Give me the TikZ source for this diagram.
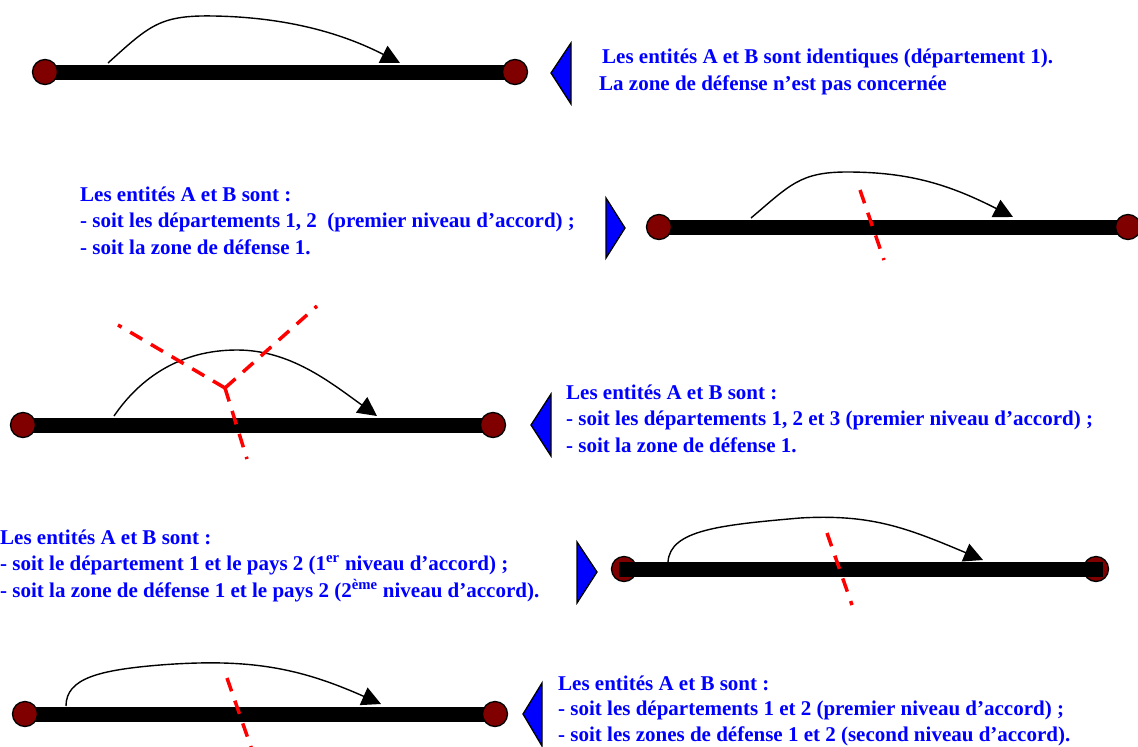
\documentclass[tikz,border=0pt]{standalone}
\usepackage{fontspec}
\setmainfont{Liberation Serif}
\usetikzlibrary{arrows.meta,backgrounds}
\definecolor{dotred}{RGB}{128,0,0}
\definecolor{txtblue}{RGB}{0,0,255}
\tikzset{
  bar/.style={line width=15pt,black},
  endpt/.style={circle,fill=dotred,draw=black,line width=1.3pt,minimum size=25pt,inner sep=0pt},
  hop/.style={black,line width=1.4pt,-{Triangle[length=19pt,width=19pt]}},
  zone/.style={red,line width=3.5pt,dash pattern=on 14pt off 10pt},
  pointer/.style={fill=txtblue,draw=black,line width=1.3pt,line join=miter},
  caption/.style={font=\fontsize{21}{26.5}\selectfont\bfseries,text=txtblue,align=left,anchor=base west,inner sep=0pt}
}
\begin{document}
\begin{tikzpicture}[x=1pt,y=-1pt]
\useasboundingbox (0,0) rectangle (1138,747);

% ---------- Row 1 ----------
\node[endpt] (a1) at (45,72) {};
\node[endpt] (b1) at (515,72) {};
\begin{pgfonlayer}{background}
\draw[bar] (a1.center) -- (b1.center);
\end{pgfonlayer}
\coordinate (s1) at (108,63);
\coordinate (e1) at (400,63);
\draw[hop] (s1) .. controls (150,25) and (160,15) .. (214,16) .. controls (270,17) and (330,27) .. (e1);
\draw[pointer] (551,73) -- (571,43) -- (571,104) -- cycle;
\node[caption] (t1) at (599,90) {\hspace*{3pt}Les entités A et B sont identiques (département 1).\\La zone de défense n’est pas concernée};

% ---------- Row 2 ----------
\node[endpt] (a2) at (659,227) {};
\node[endpt] (b2) at (1128,227) {};
\begin{pgfonlayer}{background}
\draw[bar] (a2.center) -- (b2.center);
\end{pgfonlayer}
\coordinate (s2) at (751,218);
\coordinate (e2) at (1013,217);
\draw[hop] (s2) .. controls (790,185) and (800,172) .. (847,172) .. controls (910,172) and (950,185) .. (e2);
\coordinate (z2a) at (860,190);
\coordinate (z2b) at (884,260);
\draw[zone] (z2a) -- (z2b);
\draw[pointer] (606,198) -- (625,228) -- (606,258) -- cycle;
\node[caption] (t2) at (80,254) {Les entités A et B sont :\\- soit les départements 1, 2~ (premier niveau d’accord) ;\\- soit la zone de défense 1.};

% ---------- Row 3 ----------
\node[endpt] (a3) at (23,425) {};
\node[endpt] (b3) at (493,425) {};
\begin{pgfonlayer}{background}
\draw[bar] (a3.center) -- (b3.center);
\end{pgfonlayer}
\coordinate (s3) at (114,416);
\coordinate (e3) at (377,416);
\draw[hop] (s3) .. controls (140,378) and (180,350) .. (237,350) .. controls (290,350) and (330,382) .. (e3);
\coordinate (j3) at (225,388);
\coordinate (z3a) at (118,325);
\coordinate (z3b) at (317,306);
\coordinate (z3c) at (247,459);
\draw[zone] (j3) -- (z3a);
\draw[zone] (j3) -- (z3b);
\draw[zone] (j3) -- (z3c);
\draw[pointer] (531,425) -- (551,394) -- (551,456) -- cycle;
\node[caption] (t3) at (566,452) {Les entités A et B sont :\\- soit les départements 1, 2 et 3 (premier niveau d’accord) ;\\- soit la zone de défense 1.};

% ---------- Row 4 ----------
\node[endpt] (a4) at (624,569) {};
\node[endpt] (b4) at (1096,569) {};
\draw[bar] ([xshift=-5pt]a4.center) -- ([xshift=7pt]b4.center);
\coordinate (s4) at (668,562);
\coordinate (e4) at (983,560);
\draw[hop] (s4) .. controls (670,530) and (720,525) .. (800,518) .. controls (870,514) and (905,527) .. (e4);
\coordinate (z4a) at (827,533);
\coordinate (z4b) at (852,605);
\draw[zone] (z4a) -- (z4b);
\draw[pointer] (577,542) -- (597,572) -- (577,603) -- cycle;
\node[caption] (t4) at (0,597) {Les entités A et B sont :\\- soit le département 1 et le pays 2 (1\textsuperscript{er} niveau d’accord) ;\\- soit la zone de défense 1 et le pays 2 (2\textsuperscript{ème} niveau d’accord).};

% ---------- Row 5 ----------
\node[endpt] (a5) at (25,714) {};
\node[endpt] (b5) at (495,714) {};
\begin{pgfonlayer}{background}
\draw[bar] (a5.center) -- (b5.center);
\end{pgfonlayer}
\coordinate (s5) at (66,706);
\coordinate (e5) at (381,704);
\draw[hop] (s5) .. controls (66,678) and (100,670) .. (160,665) .. controls (250,658) and (300,668) .. (e5);
\coordinate (z5a) at (227,678);
\coordinate (z5b) at (252,750);
\draw[zone] (z5a) -- (z5b);
\draw[pointer] (523,714) -- (542,683) -- (542,746) -- cycle;
\node[caption,font=\fontsize{21}{25.5}\selectfont\bfseries] (t5) at (558,741) {Les entités A et B sont :\\- soit les départements 1 et 2 (premier niveau d’accord) ;\\- soit les zones de défense 1 et 2 (second niveau d’accord).};
\end{tikzpicture}
\end{document}
